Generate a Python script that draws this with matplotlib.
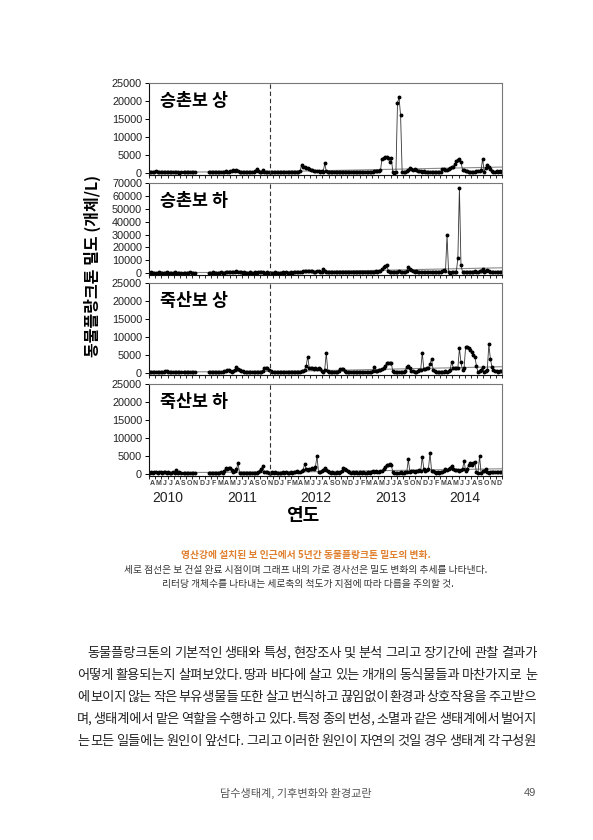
import numpy as np
import matplotlib
matplotlib.use("Agg")
from matplotlib import pyplot as plt
from matplotlib.transforms import blended_transform_factory

plt.rcParams['font.family'] = ['Liberation Sans', 'Noto Sans CJK KR', 'DejaVu Sans']

n = np.nan
# weekly samples, 4 per month, Apr 2010 .. Dec 2014 (individuals / L)
sites = ["승촌보 상", "승촌보 하", "죽산보 상", "죽산보 하"]
ymax = [25000, 70000, 25000, 25000]
yticks = [[0, 5000, 10000, 15000, 20000, 25000],
          [0, 10000, 20000, 30000, 40000, 50000, 60000, 70000],
          [0, 5000, 10000, 15000, 20000, 25000],
          [0, 5000, 10000, 15000, 20000, 25000]]

s1_2010 = [200,400,300,200, 600,300,200,200, 200,300,200,200, 200,200,300,200, 200,200,200,100,
           200,n,200,200, 200,200,200,200, 200,200,n,n, n,n,n,n]
s1_2011 = [n,n,200,200, 200,200,200,300, 200,300,200,200, 300,500,300,400, 600,500,900,700,
           1000,600,300,200, 300,200,300,200, 200,300,200,300, 500,1200,600,300, 400,800,300,300,
           300,300,200,300, 300,200,300,200]
s1_2012 = [300,200,300,300, 200,300,300,200, 300,300,400,300, 400,500,2200,1800, 1600,1500,1400,1200,
           1000,900,700,600, 500,500,400,600, 400,2700,500,400, 300,400,300,300, 400,300,300,400,
           300,300,400,300, 300,400,300,300]
s1_2013 = [300,300,200,300, 300,200,300,300, 300,400,300,300, 400,500,700,600, 500,800,4000,4300,
           4500,4400,4300,3000, 4300,200,100,300, 19500,21000,16000,400, 300,400,600,1000, 1500,1300,1000,1100,
           800,600,500,500, 400,500,400,300]
s1_2014 = [400,300,400,300, 300,400,300,400, 300,1200,1100,900, 1000,1300,1500,1800, 1800,2500,3300,3600,
           3900,3000,1000,800, 600,500,300,300, 300,400,300,500, 700,500,1000,4000, 300,1500,2300,1600,
           1200,500,400,300, 600,300,500,400]

s2_2010 = [500,600,500,500, 500,500,600,500, 500,500,500,600, 500,500,500,500, 600,500,500,500,
           500,n,500,500, 500,500,600,500, 500,500,n,n, n,n,n,n]
s2_2011 = [n,n,500,500, 500,600,500,500, 500,500,600,500, 500,800,600,900, 700,1000,900,1200,
           1600,1000,700,600, 500,600,500,500, 500,600,500,500, 600,500,800,600, 600,700,500,500,
           600,500,500,500, 500,600,500,500]
s2_2012 = [500,500,600,500, 600,500,500,600, 500,600,700,800, 900,1000,1200,1500, 1800,2000,1600,1500,
           1400,1600,1300,1200, 1500,1800,1200,1100, 3200,1500,1000,800, 900,1000,800,900, 1000,900,800,1000,
           900,1000,900,800, 900,800,1000,900]
s2_2013 = [1000,900,800,1000, 900,1000,900,1000, 1000,1100,1000,900, 1000,1200,1500,1300, 1500,2000,3000,5000,
           5500,6500,2000,1200, 1000,800,1200,1000, 1100,1500,1200,1000, 1000,1200,1500,5000, 3500,2500,1500,1200,
           1500,1200,1000,1100, 900,1000,1200,1000]
s2_2014 = [1000,900,1100,1000, 1100,1000,1000,900, 1000,1500,2500,1500, 29500,800,300,1000, 1200,1000,1000,12000,
           66500,6500,1000,800, 1000,1200,1000,900, 1000,1200,1500,1200, 1000,1500,2000,3500, 1000,1500,2500,1500,
           1000,800,1000,1200, 1000,800,1000,900]

s3_2010 = [300,300,400,300, 300,400,300,300, 400,300,500,700, 400,300,300,300, 300,400,300,300,
           300,n,300,300, 300,300,300,400, 300,300,n,n, n,n,n,n]
s3_2011 = [n,n,300,300, 300,300,300,400, 300,300,400,300, 500,600,800,900, 500,400,700,1000,
           1700,1200,1000,600, 500,400,300,300, 300,300,400,300, 300,400,300,300, 400,500,1500,1500,
           1500,800,500,400, 400,300,300,400]
s3_2012 = [300,300,300,300, 300,300,400,300, 300,300,400,300, 400,300,500,600, 1000,2000,4600,1500,
           1400,1500,1300,1400, 1300,1400,1200,600, 400,1000,5600,500, 300,400,300,300, 300,400,500,1300,
           1200,1300,500,300, 300,400,300,300]
s3_2013 = [300,300,300,400, 300,300,300,300, 400,300,300,400, 500,1800,500,600, 800,1000,1200,1500,
           2000,2800,2700,2800, 2700,500,400,300, 300,400,300,300, 400,500,1800,2000, 1500,700,500,400,
           300,500,800,1000, 5600,1200,1300,1500]
s3_2014 = [1500,2500,4000,1000, 500,300,400,300, 300,400,300,500, 400,600,1000,3200, 1500,1400,1500,1500,
           6900,3000,800,1500, 7200,7300,7100,6500, 6000,5000,4500,2000, 300,600,1000,1700, 300,600,1000,8000,
           4000,1700,800,500, 500,400,600,500]

s4_2010 = [300,500,400,600, 500,400,600,500, 400,600,500,400, 500,400,400,500, 400,1200,400,500,
           400,n,400,300, 400,300,400,300, 300,400,n,n, n,n,n,n]
s4_2011 = [n,n,300,300, 300,400,300,300, 400,300,500,400, 800,1600,1500,1600, 1600,1200,500,1000,
           1500,3000,400,300, 400,300,400,300, 400,300,300,400, 300,400,500,800, 1500,2200,600,500,
           500,400,400,500, 400,500,400,400]
s4_2012 = [400,400,500,400, 500,400,400,500, 400,500,600,800, 500,600,800,1200, 2700,1500,1200,1500,
           1500,1600,1400,2000, 5000,500,700,1000, 1200,1800,1200,800, 500,400,500,400, 400,500,400,500,
           800,1800,1500,1200, 800,500,400,500]
s4_2013 = [400,500,400,400, 500,400,500,400, 400,500,400,500, 900,600,800,500, 700,800,1000,1500,
           2000,2600,2600,2800, 2600,500,400,300, 400,300,500,400, 400,500,600,4100, 500,1000,800,600,
           800,1000,1200,1000, 4900,1500,1000,1200]
s4_2014 = [1500,5900,1000,800, 500,400,500,400, 600,500,800,1500, 1200,1500,1800,2400, 1500,1200,1200,1200,
           1000,1200,1500,3600, 1000,1500,2500,3000, 2500,3000,3300,500, 400,5000,300,800, 1000,1500,500,400,
           700,500,600,700, 600,700,500,600]

series = [s1_2010 + s1_2011 + s1_2012 + s1_2013 + s1_2014,
          s2_2010 + s2_2011 + s2_2012 + s2_2013 + s2_2014,
          s3_2010 + s3_2011 + s3_2012 + s3_2013 + s3_2014,
          s4_2010 + s4_2011 + s4_2012 + s4_2013 + s4_2014]

# trend lines: (start, end) before and after weir completion
trend_pre = [(300, 400), (500, 600), (300, 500), (400, 600)]
trend_post = [(400, 1700), (500, 4200), (400, 1800), (500, 1500)]

months_2010 = list("AMJJASOND")
months_year = list("JFMAMJJASOND")
month_labels = months_2010 + months_year * 4
years = [2010, 2011, 2012, 2013, 2014]
weir_done = 19.5   # months after Apr 2010 (mid Nov 2011)

caption_title = "영산강에 설치된 보 인근에서 5년간 동물플랑크톤 밀도의 변화."
caption_lines = ["세로 점선은 보 건설 완료 시점이며 그래프 내의 가로 경사선은 밀도 변화의 추세를 나타낸다.",
                 "리터당 개체수를 나타내는 세로축의 척도가 지점에 따라 다름을 주의할 것."]
body = ["동물플랑크톤의 기본적인 생태와 특성, 현장조사 및 분석 그리고 장기간에 관찰 결과가",
        "어떻게 활용되는지 살펴보았다. 땅과 바다에 살고 있는 개개의 동식물들과 마찬가지로 눈",
        "에 보이지 않는 작은 부유생물들 또한 살고 번식하고 끊임없이 환경과 상호작용을 주고받으",
        "며, 생태계에서 맡은 역할을 수행하고 있다. 특정 종의 번성, 소멸과 같은 생태계에서 벌어지",
        "는 모든 일들에는 원인이 앞선다. 그리고 이러한 원인이 자연의 것일 경우 생태계 각 구성원"]
footer = "담수생태계, 기후변화와 환경교란"
page_no = "49"

#--------------------------------------------------------------------------------
W, H = 593, 840
fig = plt.figure(figsize=(W/100, H/100), dpi=100)
n_months = len(month_labels)
x = np.arange(n_months*4)/4 + 0.125

tops = [83, 183, 283, 384]
axes = []
for i in range(4):
    ax = fig.add_axes([149/W, 1-(tops[i]+92)/H, 353/W, 92/H])
    axes.append(ax)
    y = np.array(series[i], dtype=float)
    ax.plot([0, weir_done], trend_pre[i], color='#8a8a8a', lw=0.8)
    ax.plot([weir_done, n_months], trend_post[i], color='#8a8a8a', lw=0.8)
    ax.plot(x, y, '-o', color='#333333', lw=0.6, ms=1.8, mfc='black', mec='black')
    ax.axvline(weir_done, color='#333333', lw=0.8, ls=(0, (4, 2.5)))
    ax.set_xlim(0, n_months)
    ax.set_ylim(-ymax[i]*0.02, ymax[i])
    ax.set_yticks(yticks[i])
    ax.set_yticklabels([str(v) for v in yticks[i]], fontsize=7.8, color='#222')
    ax.set_xticks(np.arange(n_months+1))
    ax.tick_params(axis='x', length=2.5, width=0.6, labelbottom=False)
    ax.tick_params(axis='y', length=3, width=0.7, pad=2)
    for s in ['top', 'right']:
        ax.spines[s].set_color('#777777')
        ax.spines[s].set_linewidth(0.8)
    for s in ['left', 'bottom']:
        ax.spines[s].set_color('#111111')
        ax.spines[s].set_linewidth(0.8)
    ax.text(0.032, 0.80, sites[i], transform=ax.transAxes, fontsize=12.5,
            fontweight='bold', va='center', ha='left',
            family=['Noto Sans CJK KR', 'DejaVu Sans'])

ax4 = axes[-1]
ax4.set_xticks(np.arange(n_months) + 0.5, minor=True)
ax4.set_xticklabels(month_labels, minor=True, fontsize=5, fontweight='bold', color='#444')
ax4.tick_params(axis='x', which='minor', length=0, pad=3)
tr = blended_transform_factory(ax4.transData, ax4.transAxes)
for yr in years:
    ax4.text((yr-2010)*12 + 3, -0.24, str(yr), transform=tr, ha='center', va='center',
             fontsize=10, color='#222')

fig.text(92/W, 1-266/H, "동물플랑크톤 밀도 (개체/L)", rotation=90, ha='center', va='center',
         fontsize=11.5, fontweight='bold', family=['Noto Sans CJK KR', 'DejaVu Sans'])
fig.text(303/W, 1-516/H, "연도", ha='center', va='center', fontsize=13, fontweight='bold',
         family=['Noto Sans CJK KR', 'DejaVu Sans'])

# caption
cjk = ['Noto Sans CJK KR', 'DejaVu Sans']
fig.text(306/W, 1-555/H, caption_title, ha='center', va='center', fontsize=7,
         fontweight='bold', color='#e0802e', family=cjk)
fig.text(306/W, 1-570/H, caption_lines[0], ha='center', va='center', fontsize=7,
         color='#333', family=cjk)
fig.text(308/W, 1-584/H, caption_lines[1], ha='center', va='center', fontsize=7,
         color='#333', family=cjk)

# justified body text
r = fig.canvas.get_renderer()
left, right, indent = 77, 537, 87
for k, line in enumerate(body):
    yy = 1 - (653 + 22*k)/H
    x0 = indent if k == 0 else left
    words = line.split(' ')
    ts = [fig.text(0, yy, w, fontsize=9.5, color='#222', va='center', family=cjk) for w in words]
    widths = [t.get_window_extent(r).width for t in ts]
    gap = (right - x0 - sum(widths))/(len(words) - 1)
    pos = x0
    for t, w in zip(ts, widths):
        t.set_x(pos/W)
        pos += w + gap

fig.text(296/W, 1-793/H, footer, ha='center', va='center', fontsize=8, color='#555', family=cjk)
fig.text(536/W, 1-793/H, page_no, ha='right', va='center', fontsize=8, color='#555')

plt.savefig("out.png", dpi=100, facecolor='white')
#--------------------------------------------------------------------------------
